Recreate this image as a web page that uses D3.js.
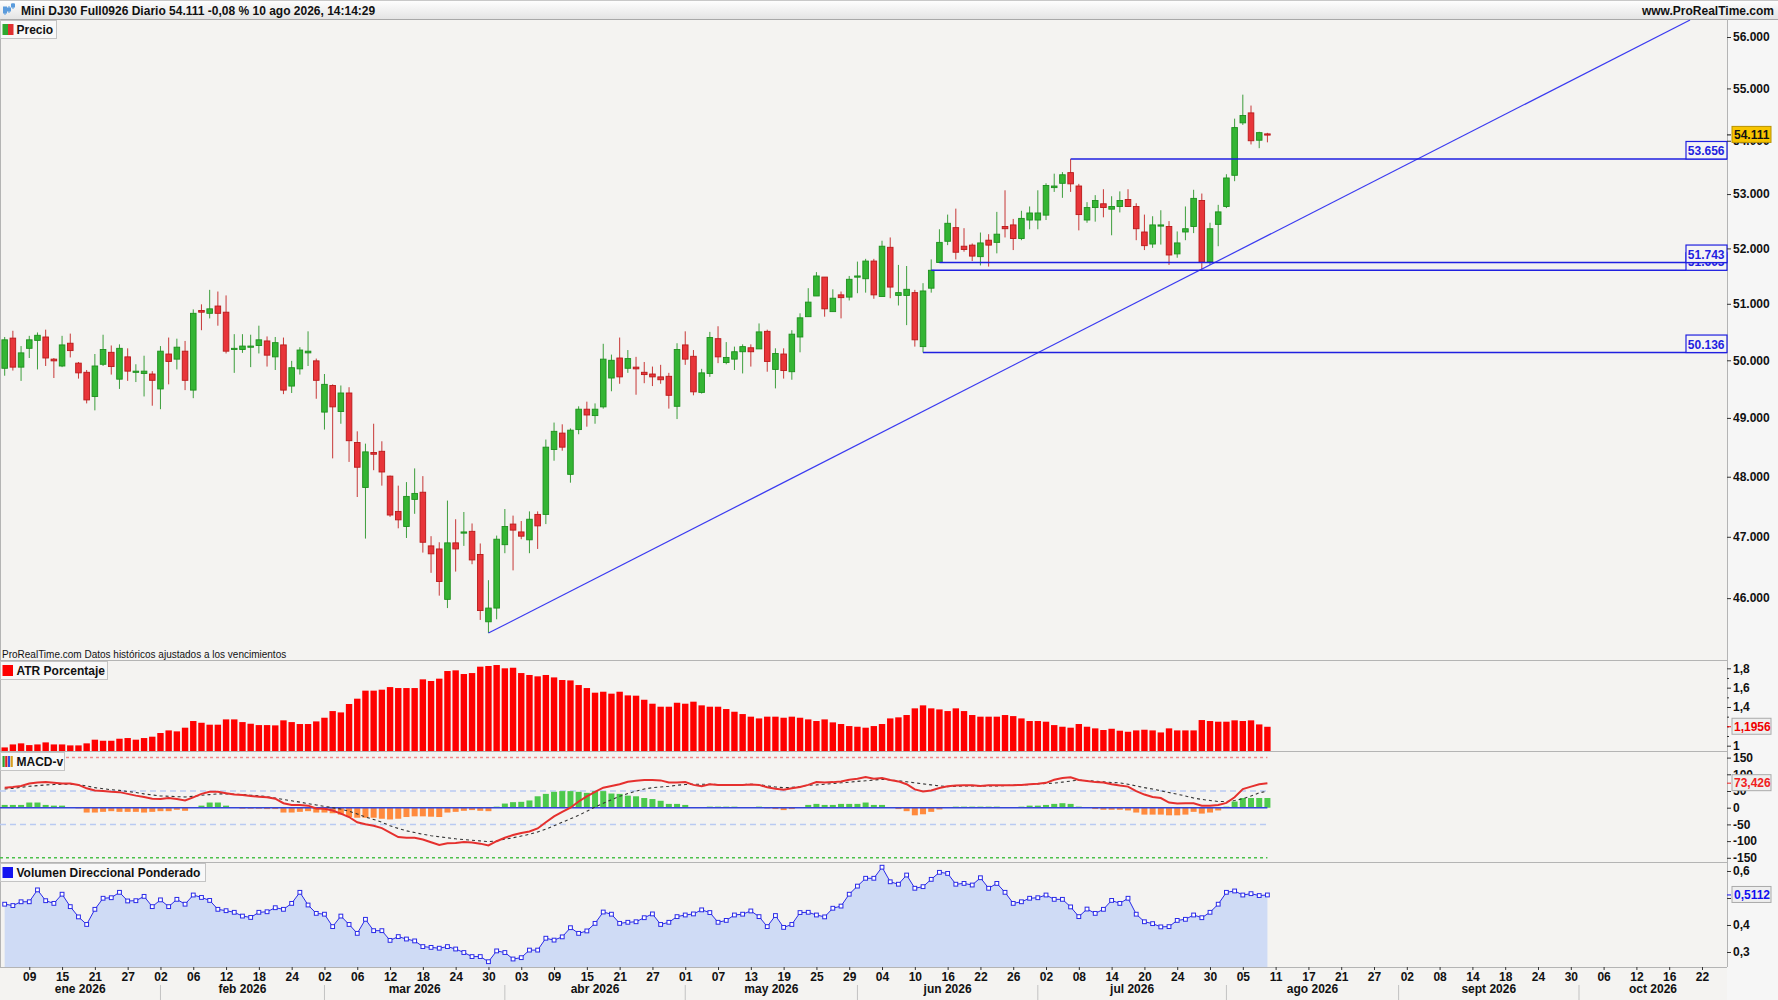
<!DOCTYPE html>
<html>
<head>
<meta charset="utf-8">
<script src="https://cdn.jsdelivr.net/npm/d3@7"></script>
<style>
body { margin: 0; background: #f4f3f1; }
svg text { font-family: "Liberation Sans", Arial, Helvetica, sans-serif; }
</style>
</head>
<body>
<svg id="view" width="1778" height="1000"></svg>
<script>
// ---- data ----
var firstDay = '2026-01-06';
var lastCalendarDay = '2026-10-30';

var opens = [49860,50390,49880,50210,50350,50410,50020,49900,50300,49950,
49790,49370,49930,50140,49670,50060,49790,49770,49760,49500,
50110,50020,50160,49480,50880,50830,50960,50850,50190,50190,
50240,50260,50340,50060,50270,49550,49850,50130,49990,49100,
49560,49110,49430,48580,47820,48410,48430,48010,47420,47170,
47620,47740,46850,46800,45980,46900,47060,47090,46710,45620,
45840,46870,47210,47080,46950,47370,47370,48460,48740,48040,
48800,49150,49040,49190,49690,50040,49860,49880,49790,49760,
49710,49720,49200,50270,50070,49440,49770,50380,49960,50020,
50150,50220,50200,50510,49840,50110,49800,50410,50770,51140,
51480,50860,51160,51120,51480,51450,51770,51130,52020,51150,
51150,51200,50240,51280,51743,52130,52380,52040,52060,51850,
52150,52110,52400,52430,52180,52520,52520,52610,53120,53200,
53400,53150,52520,52750,52820,52720,52770,52900,52770,52300,
52080,52410,52400,51900,52300,52400,52880,51760,52440,52770,
53350,54340,54530,54010,54130];

var highs = [50410,50520,50250,50430,50490,50540,50040,50430,50470,49970,
49830,50110,50450,50260,50280,50210,49930,50080,49810,50250,
50400,50380,50340,50900,50990,51250,51220,51150,50460,50460,
50450,50610,50420,50410,50400,49990,50230,50510,50030,49760,
49580,49560,49530,48770,48560,48900,48600,48020,47850,47910,
48140,48010,47010,46910,47600,47290,47410,47220,46890,46290,
47020,47460,47350,47260,47420,47420,48630,48920,48890,48820,
49200,49280,49250,50290,50100,50400,50180,50060,49970,49890,
49920,49780,50300,50510,50180,49850,50500,50600,50320,50240,
50280,50280,50650,50540,50210,50210,50530,50830,51280,51570,
51480,51260,51220,51500,51760,51810,51810,52140,52200,51700,
51680,51250,51370,51800,52350,52620,52730,52370,52090,52290,
52260,52670,53070,52540,52690,52770,53070,53200,53380,53410,
53656,53190,52850,52980,53090,52960,53050,53090,52830,52620,
52590,52700,52500,52310,52770,53080,53010,52470,52800,53370,
54420,54880,54670,54170,54150];

var lows = [49730,49820,49640,50040,49840,49900,49690,49880,50050,49680,
49250,49130,49900,49750,49500,49640,49620,49370,49210,49150,
49580,49840,49480,49340,50530,50740,50610,50120,49780,50130,
49880,50120,49890,49830,49410,49430,49750,49900,49330,48800,
48310,48900,48250,47660,46970,48110,47850,47330,47140,46980,
47380,46740,46410,46040,45840,46430,46850,46550,45650,45440,
45660,46730,46450,46960,46730,46800,47210,48270,48440,47900,
48720,48850,48900,49160,49460,49590,49780,49400,49600,49550,
49590,49160,48980,49920,49390,49420,49710,49950,49930,49830,
49770,49890,50200,49800,49510,49680,49660,50140,50770,51140,
50770,50860,50740,51060,51190,51200,51090,51130,51100,50970,
50620,50240,50136,51200,51743,52060,51800,51940,51770,51690,
51670,51910,52200,51970,52150,52350,52350,52520,53040,52930,
53040,52330,52470,52490,52570,52240,52660,52760,52150,51970,
52010,52070,51700,51830,52150,52280,51620,51700,52040,52740,
53240,54300,53930,53860,53970];

var closes = [50360,49880,50130,50360,50440,50040,49990,50270,50170,49780,
49310,49900,50190,49890,50210,49810,49810,49810,49650,50160,
49980,50230,49650,50830,50850,50910,50830,50160,50210,50250,
50250,50360,50090,50310,49480,49870,50180,50160,49650,49580,
49190,49430,48610,48160,48420,48380,48080,47360,47280,47670,
47720,46910,46720,46270,46900,46800,47080,46620,45800,45840,
46960,47170,47110,47010,47290,47180,48500,48770,48500,48790,
49150,49050,49150,50020,50000,49710,50030,49850,49750,49710,
49660,49390,50190,50020,49450,49780,50400,50060,50050,50150,
50240,50150,50500,49980,50120,49820,50460,50750,51030,51500,
50910,51100,51110,51440,51500,51770,51160,52040,51300,51200,
51260,50360,51230,51603,52110,52460,51930,51980,51860,52100,
52060,52260,52360,52180,52550,52650,52650,53160,53150,53360,
53190,52620,52750,52880,52750,52770,52880,52770,52360,52050,
52430,52430,51880,52100,52360,52920,51750,52360,52670,53300,
54250,54480,54000,54154,54111];

var atrValues = [0.982,1.013,1.024,1.006,1.013,1.034,1.013,1.013,1.003,1.003,
1.024,1.062,1.051,1.051,1.072,1.079,1.062,1.079,1.093,1.131,
1.158,1.148,1.186,1.255,1.237,1.217,1.217,1.272,1.272,1.244,
1.227,1.213,1.213,1.210,1.262,1.244,1.224,1.224,1.251,1.289,
1.358,1.344,1.431,1.486,1.569,1.569,1.579,1.606,1.596,1.596,
1.596,1.686,1.669,1.693,1.772,1.779,1.741,1.751,1.817,1.824,
1.834,1.800,1.806,1.751,1.731,1.717,1.731,1.706,1.679,1.675,
1.627,1.596,1.548,1.558,1.538,1.558,1.520,1.517,1.475,1.434,
1.403,1.403,1.444,1.434,1.455,1.417,1.403,1.403,1.379,1.351,
1.327,1.300,1.282,1.300,1.300,1.289,1.300,1.289,1.272,1.255,
1.272,1.241,1.224,1.203,1.196,1.186,1.203,1.224,1.282,1.293,
1.317,1.386,1.417,1.386,1.375,1.358,1.386,1.358,1.317,1.300,
1.300,1.300,1.317,1.306,1.282,1.255,1.255,1.248,1.213,1.196,
1.186,1.224,1.196,1.179,1.162,1.175,1.155,1.144,1.158,1.165,
1.158,1.137,1.179,1.158,1.158,1.158,1.265,1.255,1.248,1.248,
1.262,1.255,1.262,1.220,1.1956];

var macdValues = [60.0,62.1,65.2,72.5,75.6,76.6,74.5,72.5,72.5,68.3,
58.0,51.8,49.7,47.6,46.6,41.4,36.2,32.1,26.9,25.9,
29.0,25.9,21.7,31.1,41.4,47.6,47.6,43.5,39.3,38.3,
35.2,33.1,31.1,26.9,13.5,8.3,8.3,6.2,-2.1,-3.1,
-8.3,-17.6,-27.9,-43.5,-49.7,-53.8,-61.1,-74.5,-88.0,-90.0,
-90.0,-95.2,-103.5,-111.8,-106.6,-105.6,-102.5,-104.5,-107.6,-112.8,
-100.4,-90.0,-81.8,-75.6,-71.4,-62.1,-43.5,-25.9,-12.4,0.0,
18.6,34.2,47.6,60.0,65.2,70.4,77.6,80.7,82.8,82.8,
81.8,75.6,75.6,76.6,68.3,64.2,70.4,68.3,68.3,68.3,
68.3,69.3,68.3,61.1,56.9,53.8,58.0,62.1,68.3,76.6,
75.6,76.6,78.7,83.8,86.9,92.1,86.9,89.0,82.8,78.7,
70.4,54.9,48.6,51.8,59.0,64.2,66.2,67.3,67.3,65.2,
67.3,67.3,67.3,67.3,68.3,70.4,71.4,74.5,83.8,89.0,
91.1,82.8,79.7,76.6,75.6,70.4,66.2,63.1,49.7,39.3,
32.1,29.0,15.5,12.4,13.5,13.5,6.2,6.2,8.3,14.5,
31.1,55.9,63.1,70.4,73.426];

var signalValues = [55.9,58.0,61.1,64.2,66.2,68.3,69.3,70.4,70.4,69.3,
65.2,60.0,56.9,53.8,51.8,48.6,45.5,41.4,38.3,35.2,
34.2,33.1,32.1,34.2,37.3,39.3,41.4,41.4,40.4,39.3,
37.3,35.2,33.1,29.0,24.8,20.7,16.6,12.4,8.3,4.1,
0.0,-4.1,-10.4,-18.6,-27.9,-35.2,-43.5,-53.8,-62.1,-69.3,
-74.5,-79.7,-83.8,-86.9,-90.0,-93.2,-95.2,-97.3,-99.4,-101.4,
-99.4,-94.2,-90.0,-84.9,-79.7,-72.5,-64.2,-53.8,-43.5,-33.1,
-22.8,-10.4,2.1,13.5,23.8,34.2,42.4,49.7,55.9,60.0,
62.1,64.2,67.3,69.3,70.4,70.4,70.4,69.3,68.3,68.3,
69.3,70.4,69.3,65.2,62.1,60.0,61.1,63.1,67.3,68.3,
70.4,72.5,74.5,76.6,78.7,80.7,82.8,84.9,82.8,80.7,
77.6,74.5,71.4,68.3,65.2,63.1,64.2,65.2,65.2,65.2,
65.2,65.2,66.2,67.3,68.3,69.3,71.4,72.5,73.5,76.6,
79.7,82.8,80.7,79.7,77.6,75.6,74.5,70.4,65.2,60.0,
55.9,50.7,45.5,40.4,35.2,29.0,24.8,21.7,18.6,18.6,
21.7,26.9,35.2,44.5,49.7];

var histValues = [8.3,8.3,8.3,15.5,15.5,8.3,6.2,6.2,2.1,-2.1,
-14.5,-14.5,-12.4,-10.4,-12.4,-12.4,-12.4,-14.5,-12.4,-10.4,
-10.4,-6.2,-9.3,2.1,6.2,15.5,15.5,6.2,0.0,-3.1,
-3.1,-3.1,-4.1,-4.1,-14.5,-14.5,-12.4,-10.4,-14.5,-14.5,
-16.6,-20.7,-27.9,-30.0,-30.0,-30.0,-33.1,-35.2,-33.1,-27.9,
-25.9,-25.9,-26.9,-27.9,-14.5,-12.4,-9.3,-7.2,-9.3,-10.4,
3.1,12.4,16.6,17.6,21.7,34.2,41.4,47.6,49.7,49.7,
47.6,44.5,49.7,49.7,42.4,41.4,36.2,34.2,29.0,25.9,
20.7,11.4,11.4,8.3,2.1,2.1,3.1,3.1,3.1,3.1,
2.1,1.0,3.1,-2.1,-4.1,-7.2,-4.1,0.0,8.3,11.4,
8.3,8.3,11.4,11.4,11.4,15.5,8.3,8.3,0.0,-4.1,
-10.4,-22.8,-19.7,-12.4,-5.2,2.1,3.1,3.1,3.1,3.1,
3.1,3.1,2.1,0.0,3.1,6.2,6.2,8.3,11.4,13.5,
11.4,3.1,0.0,-4.1,-6.2,-6.2,-6.2,-8.3,-14.5,-20.7,
-20.7,-20.7,-22.8,-22.8,-20.7,-12.4,-17.6,-14.5,-8.3,3.1,
18.6,29.0,29.0,29.0,29.0];

var vdpValues = [0.477,0.472,0.486,0.486,0.530,0.490,0.480,0.514,0.468,0.430,
0.402,0.458,0.499,0.501,0.521,0.489,0.490,0.506,0.468,0.493,
0.468,0.495,0.477,0.511,0.502,0.491,0.458,0.453,0.447,0.433,
0.428,0.447,0.449,0.464,0.458,0.480,0.521,0.474,0.443,0.440,
0.394,0.433,0.402,0.369,0.421,0.379,0.379,0.343,0.357,0.348,
0.341,0.320,0.317,0.314,0.320,0.311,0.298,0.283,0.283,0.264,
0.304,0.298,0.274,0.279,0.307,0.307,0.351,0.344,0.356,0.390,
0.369,0.378,0.406,0.448,0.440,0.406,0.410,0.412,0.427,0.441,
0.402,0.410,0.431,0.437,0.441,0.456,0.446,0.410,0.417,0.437,
0.440,0.452,0.431,0.394,0.435,0.391,0.402,0.446,0.447,0.437,
0.430,0.462,0.470,0.514,0.544,0.573,0.573,0.614,0.560,0.551,
0.585,0.536,0.542,0.569,0.595,0.591,0.551,0.554,0.548,0.575,
0.536,0.554,0.521,0.480,0.486,0.499,0.501,0.511,0.495,0.495,
0.467,0.431,0.459,0.443,0.458,0.491,0.480,0.499,0.440,0.412,
0.405,0.393,0.394,0.417,0.421,0.437,0.427,0.447,0.477,0.521,
0.526,0.511,0.516,0.509,0.5112];

// drawn objects (support lines, trendline)
var levelValues = [53656, 51603, 51743, 50136];
var levelStarts = ['2026-07-07', '2026-06-12', '2026-06-15', '2026-06-11'];
var trendFrom = ['2026-03-30', 45440];
var trendTo = ['2026-07-30', 51700];

// axis labels (values hidden under the last-value badges get a tick only)
var priceTicks = [46000,47000,48000,49000,50000,51000,52000,53000,54000,55000,56000];
var atrTicks = [1, 1.4, 1.6, 1.8];
var atrMinor = [1.1, 1.2, 1.3, 1.5, 1.7];
var macdTicks = [-150, -100, -50, 0, 50, 100, 150];
var vdpTicks = [0.3, 0.4, 0.6];
var vdpMinor = [0.5];
var tickDays = ['2026-01-09','2026-01-15','2026-01-21','2026-01-27','2026-02-02','2026-02-06',
'2026-02-12','2026-02-18','2026-02-24','2026-03-02','2026-03-06','2026-03-12','2026-03-18',
'2026-03-24','2026-03-30','2026-04-03','2026-04-09','2026-04-15','2026-04-21','2026-04-27',
'2026-05-01','2026-05-07','2026-05-13','2026-05-19','2026-05-25','2026-05-29','2026-06-04',
'2026-06-10','2026-06-16','2026-06-22','2026-06-26','2026-07-02','2026-07-08','2026-07-14',
'2026-07-20','2026-07-24','2026-07-30','2026-08-05','2026-08-11','2026-08-17','2026-08-21',
'2026-08-27','2026-09-02','2026-09-08','2026-09-14','2026-09-18','2026-09-24','2026-09-30',
'2026-10-06','2026-10-12','2026-10-16','2026-10-22'];
var monthKeys = ['2026-01','2026-02','2026-03','2026-04','2026-05','2026-06','2026-07','2026-08','2026-09','2026-10'];
var monthNames = ['ene 2026','feb 2026','mar 2026','abr 2026','may 2026','jun 2026','jul 2026','ago 2026','sept 2026','oct 2026'];

var titleText = 'Mini DJ30 Full0926 Diario 54.111 -0,08 % 10 ago 2026, 14:14:29';

// ---- layout ----
var W = 1778, H = 1000, plotR = 1727;
var P = { price: [20, 660], atr: [660, 751], macd: [751, 862], vdp: [862, 967] };

var svg = d3.select('svg#view');
var FONT = '"Liberation Sans", Arial, Helvetica, sans-serif';

// weekday calendar -> bar index
var parse = d3.utcParse('%Y-%m-%d'), fmt = d3.utcFormat('%Y-%m-%d');
var calendar = d3.utcDays(parse(firstDay), d3.utcDay.offset(parse(lastCalendarDay), 1))
	.filter(function(d) { var w = d.getUTCDay(); return w !== 0 && w !== 6; });
var dayIndex = {};
calendar.forEach(function(d, i) { dayIndex[fmt(d)] = i; });

var x = d3.scaleLinear().domain([-0.57, 210.05]).range([0, plotR]);
var y = d3.scaleLog().domain([45013, 56335]).range([P.price[1], P.price[0]]);
var yA = d3.scaleLinear().domain([0.945, 1.886]).range([P.atr[1], P.atr[0]]);
var yM = d3.scaleLinear().domain([-162.6, 169.8]).range([P.macd[1], P.macd[0]]);
var yV = d3.scaleLinear().domain([0.2444, 0.6333]).range([P.vdp[1], P.vdp[0]]);

var bars = d3.range(opens.length);

// background
svg.append('rect').attr('width', W).attr('height', H).attr('fill', '#f4f3f1');
svg.append('rect').attr('x', plotR).attr('y', 19).attr('width', W - plotR).attr('height', H - 19).attr('fill', '#f6f6f6');

// header
var defs = svg.append('defs');
var grad = defs.append('linearGradient').attr('id', 'hdr').attr('x1', 0).attr('y1', 0).attr('x2', 0).attr('y2', 1);
grad.append('stop').attr('offset', '0%').attr('stop-color', '#ffffff');
grad.append('stop').attr('offset', '100%').attr('stop-color', '#e4e4e4');
svg.append('rect').attr('width', W).attr('height', 19).attr('fill', 'url(#hdr)');
svg.append('line').attr('x1', 0).attr('x2', W).attr('y1', 19.5).attr('y2', 19.5).attr('stroke', '#a8a8a8');
svg.append('line').attr('x1', 0).attr('x2', W).attr('y1', 0.5).attr('y2', 0.5).attr('stroke', '#c8c8c8');

// little candlestick icon
var icon = svg.append('g').attr('fill', '#5b9bdc').attr('stroke', '#5b9bdc');
[[5, 11, 15, 7, 13], [9, 6, 13, 8, 11], [13, 3, 9, 4, 7]].forEach(function(c) {
	icon.append('line').attr('x1', c[0]).attr('x2', c[0]).attr('y1', c[1]).attr('y2', c[2]);
	icon.append('rect').attr('x', c[0] - 1.5).attr('y', c[3]).attr('width', 3).attr('height', c[4] - c[3]);
});
svg.append('text').attr('x', 21).attr('y', 14.5).attr('font-size', 12).attr('font-weight', 'bold')
	.attr('fill', '#111').text(titleText);
svg.append('text').attr('x', 1774).attr('y', 14.5).attr('font-size', 12).attr('font-weight', 'bold')
	.attr('text-anchor', 'end').attr('fill', '#111').text('www.ProRealTime.com');

// panel separators and right border
[P.atr[0], P.macd[0], P.vdp[0], P.vdp[1]].forEach(function(py) {
	svg.append('line').attr('x1', 0).attr('x2', plotR).attr('y1', py + 0.5).attr('y2', py + 0.5).attr('stroke', '#b4b4b4');
});
svg.append('line').attr('x1', plotR + 0.5).attr('x2', plotR + 0.5).attr('y1', 19).attr('y2', P.vdp[1]).attr('stroke', '#b4b4b4');
svg.append('line').attr('x1', 0.5).attr('x2', 0.5).attr('y1', 19).attr('y2', P.vdp[1]).attr('stroke', '#b4b4b4');

// ---- price panel ----
var gPrice = svg.append('g');
var cand = gPrice.selectAll('g.candle').data(bars).join('g').attr('class', 'candle');
cand.append('line')
	.attr('x1', function(i) { return x(i); }).attr('x2', function(i) { return x(i); })
	.attr('y1', function(i) { return y(highs[i]); }).attr('y2', function(i) { return y(lows[i]); })
	.attr('stroke', function(i) { return closes[i] >= opens[i] ? '#1d8f1d' : '#c01818'; })
	.attr('stroke-opacity', 0.85);
cand.append('rect')
	.attr('x', function(i) { return x(i) - 2.8; })
	.attr('width', 5.6)
	.attr('y', function(i) { return y(Math.max(opens[i], closes[i])); })
	.attr('height', function(i) { return Math.max(1.2, Math.abs(y(opens[i]) - y(closes[i]))); })
	.attr('fill', function(i) { return closes[i] >= opens[i] ? '#34b534' : '#e8353a'; })
	.attr('stroke', function(i) { return closes[i] >= opens[i] ? '#1d8f1d' : '#b81a1a'; })
	.attr('stroke-width', 0.9);

// trendline from the march low, extended to the top of the panel
var t0 = [x(dayIndex[trendFrom[0]]), y(trendFrom[1])];
var t1 = [x(dayIndex[trendTo[0]]), y(trendTo[1])];
var tk = (P.price[0] - t0[1]) / (t1[1] - t0[1]);
gPrice.append('line')
	.attr('x1', t0[0]).attr('y1', t0[1])
	.attr('x2', t0[0] + tk * (t1[0] - t0[0])).attr('y2', P.price[0])
	.attr('stroke', '#3a3af0').attr('stroke-width', 1.2);

// horizontal levels with their labels
levelValues.forEach(function(v, k) {
	var ly = y(v);
	gPrice.append('line').attr('x1', x(dayIndex[levelStarts[k]])).attr('x2', plotR)
		.attr('y1', ly).attr('y2', ly).attr('stroke', '#1f1fe0').attr('stroke-width', 1.5);
	gPrice.append('rect').attr('x', 1686).attr('y', ly - 17.5).attr('width', 41).attr('height', 17.5)
		.attr('fill', '#f4f4f4').attr('stroke', '#1f1fe0').attr('stroke-width', 1.2);
	gPrice.append('text').attr('x', 1724.5).attr('y', ly - 4).attr('text-anchor', 'end')
		.attr('font-size', 12).attr('font-weight', 'bold').attr('fill', '#1f1fe0')
		.text((v / 1000).toFixed(3));
});

svg.append('text').attr('x', 2).attr('y', 658).attr('font-size', 10).attr('fill', '#111')
	.text('ProRealTime.com Datos históricos ajustados a los vencimientos');

// ---- ATR panel ----
svg.append('g').selectAll('rect').data(bars).join('rect')
	.attr('x', function(i) { return x(i) - 3.2; }).attr('width', 6.4)
	.attr('y', function(i) { return yA(atrValues[i]); })
	.attr('height', function(i) { return P.atr[1] - yA(atrValues[i]); })
	.attr('fill', '#fe0000');

// ---- MACD-v panel ----
var gM = svg.append('g');
var xEnd = x(bars.length - 1);
function refLine(v, color, dash, w) {
	gM.append('line').attr('x1', 0).attr('x2', xEnd).attr('y1', yM(v)).attr('y2', yM(v))
		.attr('stroke', color).attr('stroke-width', w).attr('stroke-dasharray', dash);
}
refLine(150, '#f08a8a', '3,3', 1.5);
refLine(-150, '#4cc04c', '3,3', 1.5);
refLine(50, '#b9caf2', '6,4', 1.5);
refLine(-50, '#b9caf2', '6,4', 1.5);
gM.selectAll('rect').data(bars).join('rect')
	.attr('x', function(i) { return x(i) - 3; }).attr('width', 6)
	.attr('y', function(i) { return Math.min(yM(0), yM(histValues[i])); })
	.attr('height', function(i) { return Math.abs(yM(histValues[i]) - yM(0)); })
	.attr('fill', function(i) { return histValues[i] >= 0 ? '#4dc94d' : '#ff8a3d'; });
refLine(0, '#3344d8', null, 1.5);
gM.append('path').datum(bars)
	.attr('d', d3.line().x(function(i) { return x(i); }).y(function(i) { return yM(signalValues[i]); }))
	.attr('fill', 'none').attr('stroke', '#333').attr('stroke-width', 1.1).attr('stroke-dasharray', '3,3');
gM.append('path').datum(bars)
	.attr('d', d3.line().x(function(i) { return x(i); }).y(function(i) { return yM(macdValues[i]); }))
	.attr('fill', 'none').attr('stroke', '#e5302e').attr('stroke-width', 2);

// ---- Volumen Direccional Ponderado ----
var gV = svg.append('g');
gV.append('path').datum(bars)
	.attr('d', d3.area().x(function(i) { return x(i); }).y0(P.vdp[1]).y1(function(i) { return yV(vdpValues[i]); }))
	.attr('fill', '#cfdbf5');
gV.append('path').datum(bars)
	.attr('d', d3.line().x(function(i) { return x(i); }).y(function(i) { return yV(vdpValues[i]); }))
	.attr('fill', 'none').attr('stroke', '#2a2ae8').attr('stroke-width', 1);
gV.selectAll('rect').data(bars).join('rect')
	.attr('x', function(i) { return x(i) - 1.9; }).attr('y', function(i) { return yV(vdpValues[i]) - 1.9; })
	.attr('width', 3.8).attr('height', 3.8)
	.attr('fill', '#ffffff').attr('stroke', '#2a2ae8').attr('stroke-width', 1);

// ---- legends ----
function legend(top, width, label, drawIcon) {
	var g = svg.append('g');
	g.append('rect').attr('x', 0.5).attr('y', top + 0.5).attr('width', width).attr('height', 18)
		.attr('fill', '#f8f8f8').attr('stroke', '#c4c4c4');
	drawIcon(g, top);
	g.append('text').attr('x', 16.5).attr('y', top + 14).attr('font-size', 12).attr('font-weight', 'bold')
		.attr('fill', '#111').text(label);
}
legend(20, 56, 'Precio', function(g, t) {
	g.append('rect').attr('x', 2.5).attr('y', t + 4).attr('width', 5.5).attr('height', 11).attr('fill', '#2fa82f');
	g.append('rect').attr('x', 8).attr('y', t + 4).attr('width', 5.5).attr('height', 11).attr('fill', '#e03030');
});
legend(661, 107, 'ATR Porcentaje', function(g, t) {
	g.append('rect').attr('x', 2.5).attr('y', t + 4).attr('width', 10.5).attr('height', 11).attr('fill', '#fe0000');
});
legend(752, 64, 'MACD-v', function(g, t) {
	['#2f9f2f', '#e02020', '#3050e0', '#d9a020'].forEach(function(c, k) {
		g.append('rect').attr('x', 2.5 + k * 2.7).attr('y', t + 4).attr('width', 2.2).attr('height', 11).attr('fill', c);
	});
});
legend(863, 205, 'Volumen Direccional Ponderado', function(g, t) {
	g.append('rect').attr('x', 2.5).attr('y', t + 4).attr('width', 10.5).attr('height', 11).attr('fill', '#1414f0');
});

// ---- right axes ----
function styleAxis(g) {
	g.select('.domain').remove();
	g.selectAll('.tick line').attr('stroke', '#333');
	g.selectAll('.tick text').attr('font-family', FONT).attr('font-size', 12).attr('font-weight', 'bold').attr('fill', '#111');
}
function commaFmt(d) { return String(d).replace('.', ','); }
function rightAxis(scale, values, size, format) {
	svg.append('g').attr('transform', 'translate(' + plotR + ',0)')
		.call(d3.axisRight(scale).tickValues(values).tickSize(size).tickPadding(2).tickFormat(format))
		.call(styleAxis);
}
rightAxis(y, priceTicks, 4, function(d) { return (d / 1000).toFixed(3); });
rightAxis(yA, atrTicks, 4, commaFmt);
rightAxis(yA, atrMinor, 2, '');
rightAxis(yM, macdTicks, 4, commaFmt);
rightAxis(yV, vdpTicks, 4, commaFmt);
rightAxis(yV, vdpMinor, 4, '');

// last value badges
function badge(yy, txt, fill, stroke, color) {
	svg.append('line').attr('x1', plotR).attr('x2', plotR + 4).attr('y1', yy).attr('y2', yy).attr('stroke', color);
	svg.append('rect').attr('x', 1732).attr('y', yy - 8.5).attr('width', 39).attr('height', 16)
		.attr('fill', fill).attr('stroke', stroke);
	svg.append('text').attr('x', 1734).attr('y', yy + 4.3).attr('font-size', 12).attr('font-weight', 'bold')
		.attr('fill', color).text(txt);
}
var last = bars.length - 1;
badge(y(closes[last]), (closes[last] / 1000).toFixed(3), '#f7c400', '#b89200', '#111');
badge(yA(atrValues[last]), commaFmt(atrValues[last]), '#eeeeee', '#aaaaaa', '#f00000');
badge(yM(macdValues[last]), commaFmt(macdValues[last]), '#eeeeee', '#aaaaaa', '#f02020');
badge(yV(vdpValues[last]), commaFmt(vdpValues[last]), '#eeeeee', '#aaaaaa', '#1010f0');

// ---- time axis ----
svg.append('g').attr('transform', 'translate(0,' + P.vdp[1] + ')')
	.call(d3.axisBottom(x)
		.tickValues(tickDays.map(function(d) { return dayIndex[d]; }))
		.tickSize(3).tickPadding(2)
		.tickFormat(function(i) { return fmt(calendar[i]).slice(8); }))
	.call(styleAxis);

var monthStart = monthKeys.map(function(m) {
	return calendar.findIndex(function(d) { return fmt(d).slice(0, 7) === m; });
});
monthStart.forEach(function(i, k) {
	var left = k === 0 ? 0 : x(i);
	var right = k < monthStart.length - 1 ? x(monthStart[k + 1]) : plotR;
	if (k > 0) {
		svg.append('line').attr('x1', left).attr('x2', left).attr('y1', 985).attr('y2', H)
			.attr('stroke', '#c2c2c2');
	}
	svg.append('text').attr('x', (left + right) / 2).attr('y', 992.5).attr('text-anchor', 'middle')
		.attr('font-size', 12).attr('font-weight', 'bold').attr('fill', '#111').text(monthNames[k]);
});
</script>
</body>
</html>
